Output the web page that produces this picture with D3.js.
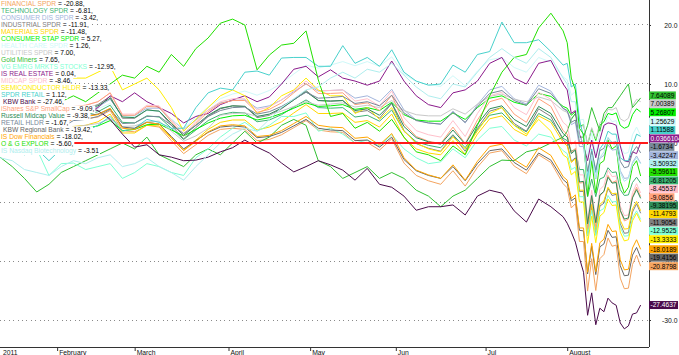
<!DOCTYPE html>
<html><head><meta charset="utf-8">
<script src="https://cdn.jsdelivr.net/npm/d3@7"></script>
<style>body{margin:0;background:#fff;}svg{display:block;font-family:"Liberation Sans",Arial,sans-serif;}</style>
</head><body><svg id="c" width="679" height="355"></svg>
<script>
// trading-day index since 11 Jan 2011 (every 3rd day until end of July, daily in August)
const days = [0,3,6,9,12,15,18,21,24,27,30,33,36,39,42,45,48,51,54,57,60,63,66,69,72,75,78,81,84,87,90,93,96,99,102,105,108,111,114,117,120,123,126,129,132,135,138,
  139,140,141,142,143,144,145,146,147,148,149,150,151,152,153,154,155,156,157];
const monthTickDays = [14,33,56,76,97,119,139];
const monthTickLabels = ["February","March","April","May","Jun","Jul","August"];
const yearLabel = "2011";
const yTicks = [20,10,0,-10,-20,-30];

const seriesNames = ["FINANCIAL SPDR","TECHNOLOGY SPDR","CONSUMER DIS SPDR","INDUSTRIAL SPDR","MATERIALS SPDR","CONSUMER STAP SPDR","HEALTH CARE SPDR","UTILITIES SPDR","Gold Miners","VG EMRG MRKTS STOCKS","IS REAL ESTATE","MIDCAP SPDR","SEMICONDUCTOR HLDR","SPDR RETAIL","KBW Bank","iShares S&P SmallCap","Russell Midcap Value","RETAIL HLDR","KBW Regional Bank","IS Dow Financials","O & G EXPLOR","IS Nasdaq Biotechnology"];
const legendValues = ["-20.88","-6.81","-3.42","-11.91","-11.48","5.27","1.26","7.00","7.65","-12.95","0.04","-8.46","-13.33","1.12","-27.46","-9.09","-9.38","-1.67","-19.42","-18.02","-5.60","-3.51"];
const seriesColors = ["#f4a460","#3cb371","#a3b5dc","#808080","#ffd700","#00f000","#cff9f9","#c8c8c8","#32c032","#7fffd4","#8b1a8b","#ffc0cb","#ffee00","#48d1cc","#4a0a4a","#ffa07a","#2e8b57","#778899","#666666","#ffa500","#22e000","#afeeee"];

const financial = [1.4,2.9,1.6,2.3,0.8,3.0,4.1,4.1,4.4,5.5,2.1,1.9,3.0,2.7,0.4,-1.8,-0.3,1.3,2.3,2.5,2.3,0.4,0.6,1.4,2.6,3.8,2.2,1.9,1.8,0.0,0.1,-1.2,0.7,-3.4,-5.5,-6.4,-7.0,-4.7,-7.3,-4.1,-1.7,-1.3,-3.9,-5.2,-2.0,-3.3,-6.9,
  -7.6,-11.0,-10.3,-16.7,-16.7,-25.1,-19.6,-25.0,-19.6,-18.9,-16.1,-17.5,-17.3,-22.9,-24.7,-24.6,-20.6,-19.0,-20.8798];
const technology = [1.3,2.8,1.7,2.6,1.3,3.5,4.6,4.8,5.3,6.4,3.5,3.4,4.6,4.4,2.5,0.6,2.2,3.8,4.8,5.2,5.1,3.6,3.9,4.8,6.1,7.3,6.0,5.9,6.0,4.4,4.7,3.7,5.6,2.0,0.2,-0.4,-0.8,1.4,-0.8,2.3,4.7,5.1,3.0,1.9,5.0,3.9,0.8,
  0.4,-1.4,-1.1,-4.5,-4.5,-9.1,-6.1,-9.1,-6.1,-5.8,-4.2,-5.0,-4.9,-7.9,-8.9,-8.8,-6.7,-5.8,-6.81205];
const consumerDis = [1.3,2.9,1.9,2.9,1.8,4.0,5.3,5.6,6.1,7.4,4.6,4.6,5.9,5.9,4.0,2.3,3.9,5.6,6.8,7.2,7.3,5.9,6.3,7.3,8.7,10.0,8.8,8.9,9.0,7.6,8.0,7.0,9.1,5.6,3.9,3.4,3.2,5.4,3.4,6.5,9.0,9.6,7.5,6.6,9.8,8.8,5.8,
  5.4,3.1,3.5,-0.6,-0.6,-6.2,-2.6,-6.1,-2.6,-2.1,-0.3,-1.2,-1.1,-4.7,-6.0,-5.9,-3.3,-2.2,-3.42247];
const industrial = [1.6,3.4,2.1,3.2,1.6,4.3,5.7,5.9,6.5,7.9,4.2,4.2,5.6,5.4,3.0,0.7,2.6,4.5,5.8,6.3,6.2,4.3,4.7,5.8,7.3,8.9,7.2,7.1,7.2,5.2,5.5,4.2,6.7,2.1,-0.1,-0.9,-1.4,1.3,-1.4,2.5,5.4,6.0,3.3,2.0,5.8,4.5,0.5,
  -0.1,-3.1,-2.5,-8.2,-8.2,-15.7,-10.7,-15.5,-10.7,-10.2,-7.7,-8.9,-8.7,-13.7,-15.3,-15.2,-11.7,-10.3,-11.9054];
const materials = [-1.1,0.6,-0.5,0.4,-0.9,1.5,2.8,3.0,3.6,4.9,1.7,1.7,3.0,2.9,0.8,-1.2,0.5,2.3,3.5,3.9,3.9,2.2,2.7,3.6,5.1,6.5,5.0,5.0,5.1,3.5,3.8,2.7,4.9,0.9,-1.0,-1.7,-2.0,0.4,-1.9,1.5,4.1,4.6,2.3,1.2,4.6,3.5,0.1,
  -0.5,-3.3,-2.7,-8.0,-8.0,-14.9,-10.4,-14.8,-10.4,-9.8,-7.5,-8.6,-8.5,-13.1,-14.6,-14.5,-11.2,-9.9,-11.4793];
const consumerStap = [-0.7,0.3,-0.2,0.5,-0.1,1.4,2.2,2.5,2.9,3.8,2.1,2.3,3.1,3.2,2.2,1.2,2.3,3.4,4.2,4.6,4.7,3.9,4.3,5.0,5.9,6.8,6.2,6.3,6.5,5.7,6.0,5.5,6.9,4.8,3.9,3.7,3.7,5.1,4.0,6.0,7.6,8.0,6.9,6.4,8.4,7.9,6.2,
  5.9,4.7,5.3,2.8,3.1,-0.3,2.4,0.4,3.0,3.6,5.0,4.8,5.1,3.0,2.5,2.8,4.8,5.8,5.26807];
const healthCare = [2.0,3.3,2.5,3.3,2.3,4.1,5.1,5.3,5.8,6.7,4.5,4.5,5.5,5.4,4.0,2.5,4.3,6.1,7.5,8.3,8.8,8.1,8.9,10.1,11.7,13.2,12.7,13.2,13.8,13.1,13.8,13.0,14.6,11.7,10.4,9.9,9.6,11.4,9.7,12.2,14.1,14.5,12.8,12.0,14.5,13.7,11.2,
  10.7,8.1,8.7,3.9,4.0,-2.4,1.8,-2.2,1.9,2.5,4.6,3.6,3.8,-0.4,-1.8,-1.6,1.4,2.7,1.25629];
const utilities = [0.2,1.0,0.7,1.2,0.8,2.0,2.7,3.0,3.3,4.1,2.8,2.9,3.6,3.7,2.0,0.3,1.2,2.5,4.7,5.0,5.1,4.5,4.8,5.4,6.2,7.0,6.4,6.6,6.8,6.1,6.4,6.0,7.2,5.5,4.8,4.6,4.6,5.8,4.9,6.6,7.9,8.3,7.4,7.0,7.8,7.2,5.5,
  5.2,4.2,4.9,2.6,3.0,-0.2,2.6,0.7,3.4,4.1,5.7,5.6,6.0,4.1,3.7,4.2,6.3,7.4,7.00389];
const goldMiners = [-2.4,-4,-6,-8.3,-7,-5,-4,-3,-2,-1,0,-1,1,-2,-3,-4,-2,-1,-2,0,2,0,1,3,4,3,-3,-4,-6,-5,-4,-6,-5,-6,-8,-9,-10.8,-9,-8,-6,-4,-2.9,-3,-1.5,-1,0,1,
  2,4,5,1,1,3,6,4,2,5,6,6,7,8,9,10,6,6.8,7.64089];
const vgEmrg = [0.7,0.5,-1.5,-1,-5.5,-3.5,-3.4,-4.5,-4,-3.5,-6,-5,-3.5,-4,-5,-5.5,-2.5,-1,1,2.5,3.5,2,3,4.5,4.5,5.1,2,2.5,1.5,0,0.5,-0.5,1.4,-1,-2.5,-3.5,-3.2,-1,-2.5,0.5,2.5,2.8,0.5,-0.5,1.5,1.0,-1.3,
  -1.8,-4.5,-4.1,-9.1,-9.1,-15.7,-11.4,-15.7,-11.5,-11.1,-8.9,-10.0,-9.9,-14.3,-15.8,-15.7,-12.7,-11.5,-12.9525];
const realEstate = [2,3,0.5,2.5,1.5,4,5.5,5,6,8,7,8.5,7,6,5,3.4,4.5,5,6.5,7.3,8,7,7.8,10,12.5,13,11.2,12.4,11,10.5,9.8,10.5,13.9,10.5,8,6.5,6,8.5,9,10.5,13.5,14.5,11,10,13.5,14,10,
  9,5,5.5,1.5,-0.5,-3,0.5,-2.5,0.5,3,3.4,3.3,3,-0.5,-3,-3.2,-1.5,-1.8,0.0366104];
const midcap = [1.6,3.5,2.3,3.4,1.9,4.6,6.1,6.4,7.0,8.5,4.9,4.9,6.4,6.3,3.9,1.6,3.6,5.6,7.0,7.5,7.5,5.6,6.1,7.3,8.9,10.5,8.9,8.9,9.0,7.1,7.5,6.3,8.8,4.3,2.1,1.4,1.0,3.8,1.1,5.0,8.0,8.6,6.0,4.8,8.6,7.4,3.5,
  2.9,-0.3,0.4,-5.4,-5.4,-13.2,-8.0,-13.0,-7.9,-7.2,-4.6,-5.7,-5.6,-10.7,-12.3,-12.2,-8.4,-6.9,-8.45537];
const semis = [3,5,4,8,6,9,11,11,12,13,9,10,11,9,6,2,4,6,8,9,8,5,6,8,9,11,9,8,8,5,6,4,6,2,0,-1,-1.5,1,-1,2,5,6,3,1.5,4,2,-2,
  -2.5,-5.4,-4.8,-10.0,-10.0,-17.0,-12.4,-16.9,-12.4,-11.8,-9.5,-10.6,-10.5,-15.1,-16.6,-16.4,-13.2,-11.9,-13.3333];
const spdrRetail = [0.5,-0.5,-2,-1,-3,-1,1,2,3,4.5,2,2.5,4,3.5,2.5,2.5,6,8.5,9.3,9,12,12.2,11.5,14.4,14.5,14.5,13,13,16.5,13.5,14.5,13,15.8,12,10.5,9.8,10,13.2,12,15,15.5,20.5,17,17,17.5,15.5,13.2,
  13.5,9.5,10,4,1,-6,-1,-5,-1,0,2,1.5,1.5,-2.5,-3,-3,-0.5,1.5,1.11588];
const kbwBank = [2.5,4,2.5,4,2.5,4.5,5.5,6,5.5,4,1.5,-0.7,-0.3,-2,-2.4,-3,-2.9,-2.4,-1.5,-0.8,0.5,-0.7,-1.7,-3.4,-4.9,-4.0,-3.0,-3.7,-4.6,-6.3,-4.3,-7.0,-7.5,-9.0,-11.4,-10.8,-10.8,-10.5,-12.2,-9.0,-8.0,-8.5,-11.5,-13.4,-9.5,-10.8,-12.5,
  -13.6,-15.1,-16.8,-19.5,-21.9,-29.2,-25.4,-30.8,-28.0,-28.6,-26.3,-27.1,-27.5,-30.5,-31.5,-31.0,-29.0,-28.8,-27.4637];
const smallCap = [1.7,2.0,0.5,1.5,0.0,3.0,6.2,6.4,7.0,8.5,4.7,4.7,6.2,6.1,3.6,1.2,3.3,5.3,6.7,7.2,7.2,5.2,5.7,6.8,8.5,10.1,8.4,8.4,8.5,6.5,6.8,5.5,8.1,3.3,1.1,0.3,-0.1,2.7,-0.1,3.9,7.0,7.6,4.9,3.5,7.5,6.2,2.1,
  1.5,-1.6,-0.9,-6.8,-6.7,-14.5,-9.2,-14.2,-9.0,-8.2,-5.5,-6.7,-6.4,-11.5,-13.2,-12.9,-9.1,-7.5,-9.0856];
const midcapValue = [1.9,3.5,2.4,3.3,2.0,4.4,5.6,5.8,6.3,7.6,4.4,4.3,5.6,5.4,3.3,1.3,3.0,4.7,5.9,6.3,6.2,4.5,4.9,5.9,7.3,8.7,7.2,7.1,7.2,5.5,5.8,4.7,6.8,2.8,0.9,0.2,-0.2,2.2,-0.2,3.2,5.8,6.3,4.0,2.8,6.2,5.0,1.6,
  1.0,-1.8,-1.2,-6.6,-6.5,-13.7,-8.9,-13.5,-8.8,-8.2,-5.8,-6.8,-6.7,-11.4,-12.9,-12.7,-9.3,-7.9,-9.38195];
const retailHldr = [0.1,1.5,0.7,1.6,0.7,2.6,3.8,4.0,4.5,5.7,3.3,3.4,4.5,4.5,3.0,1.6,3.0,4.5,5.5,6.0,6.1,4.9,5.3,6.2,7.4,8.6,7.6,7.7,7.9,6.7,7.0,6.3,8.1,5.1,3.8,3.4,3.2,5.2,3.5,6.2,8.4,8.9,7.2,6.4,9.2,8.4,5.9,
  5.5,3.5,3.9,0.2,0.2,-4.8,-1.4,-4.6,-1.3,-0.9,0.8,0.1,0.2,-3.1,-4.2,-4.0,-1.6,-0.6,-1.6734];
const kbwRegional = [2.3,3.6,2.4,3.1,1.6,3.6,4.6,4.6,4.9,5.8,2.7,2.5,3.5,3.2,1.1,-1.0,0.4,1.8,2.7,2.9,2.7,0.9,1.1,1.8,2.9,4.0,2.5,2.2,2.1,0.4,0.5,-0.7,1.0,-2.8,-4.7,-5.5,-6.0,-4.0,-6.4,-3.5,-1.3,-1.0,-3.3,-4.6,-1.7,-2.9,-6.2,
  -6.8,-9.8,-9.3,-14.8,-14.9,-22.2,-17.5,-22.3,-17.6,-17.1,-14.8,-16.0,-15.9,-20.8,-22.5,-22.4,-19.0,-17.7,-19.4156];
const dowFinancials = [1.6,3.1,1.8,2.6,1.1,3.3,4.4,4.5,4.8,5.9,2.5,2.3,3.5,3.2,0.9,-1.3,0.3,1.9,2.9,3.1,2.9,1.1,1.3,2.1,3.3,4.5,3.0,2.7,2.6,0.8,1.0,-0.3,1.6,-2.5,-4.6,-5.4,-6.0,-3.7,-6.3,-3.1,-0.6,-0.2,-2.8,-4.1,-0.8,-2.1,-5.7,
  -6.3,-9.4,-8.8,-14.4,-14.4,-21.9,-17.0,-21.8,-16.9,-16.3,-13.8,-15.0,-14.9,-19.8,-21.5,-21.4,-17.8,-16.4,-18.0189];
const ogExplor = [3,4,3,5,4,7,8,7,8.5,10,11.5,11,13,12,15,13,16,17.8,20.3,21,20,12.4,14.9,16.6,16.9,19,10.7,4.5,5,2.5,3.5,2,4,1,-1.5,-2,-3,-0.5,-2,3,8,12,14.5,15,19.5,22,19,
  17,11,9,2.5,1.5,-9,-3,-8.5,-3.5,-3,0.5,-1,-0.5,-6.5,-8.5,-7.5,-4,-3,-5.59611];
const nasdaqBio = [-2.5,-3,-4.5,-5,-5.5,-4,-3,-3.5,-2.5,-2,-4,-3.5,-2.5,-4,-5,-6.3,-4,-2,0,1.5,2.5,2,4,6,7.5,9,9.5,11,12,11,12.5,12,13.5,11.5,9.5,8,7.5,10,9.5,12,14.5,16,14.5,13.5,16,14.5,11,
  10,7,7,1,0,-7,-2,-6,-2.5,-1.5,1,0,-0.5,-5,-6.5,-6,-3.5,-2.5,-3.50932];

const seriesValues = [financial,technology,consumerDis,industrial,materials,consumerStap,healthCare,utilities,goldMiners,vgEmrg,realEstate,midcap,semis,spdrRetail,kbwBank,smallCap,midcapValue,retailHldr,kbwRegional,dowFinancials,ogExplor,nasdaqBio];

const svg = d3.select("#c");
const x = d3.scaleLinear().domain([0, 158.8]).range([0, 648]);
const y = d3.scaleLinear().domain([-34.576, 24.237]).range([347, 0]);

// dotted grid
svg.append("g").selectAll("line").data(yTicks.filter(d => d !== 0)).join("line")
  .attr("x1", 0).attr("x2", 648).attr("y1", d => y(d)).attr("y2", d => y(d))
  .attr("stroke", "#8a8a8a").attr("stroke-width", 1).attr("stroke-dasharray", "1,3.4")
  .attr("shape-rendering", "crispEdges");

// series lines
const line = d3.line().x((d, i) => x(days[i])).y(d => y(d));
svg.append("g").selectAll("path").data(seriesValues).join("path")
  .attr("d", line).attr("fill", "none")
  .attr("stroke", (d, i) => seriesColors[i]).attr("stroke-width", 1);

// zero line
svg.append("line").attr("x1", 0).attr("x2", 648).attr("y1", y(0)).attr("y2", y(0))
  .attr("stroke", "#ff1a1a").attr("stroke-width", 2);

// bottom axis
const xAxis = d3.axisBottom(x).tickValues(monthTickDays)
  .tickFormat((d, i) => monthTickLabels[i]).tickSizeInner(4).tickSizeOuter(0);
const gx = svg.append("g").attr("transform", "translate(0,347)").call(xAxis);
gx.select(".domain").attr("d", "M0,0.5H649").attr("stroke", "#333");
gx.selectAll(".tick line").attr("stroke", "#333");
gx.selectAll(".tick text").attr("x", 1.5).attr("y", 7.5).attr("dy", 0)
  .style("text-anchor", "start").attr("font-size", 6.8).attr("fill", "#111");
svg.append("text").attr("x", 3).attr("y", 354.5).attr("font-size", 6.8).attr("fill", "#111").text(yearLabel);

// right axis
const yAxis = d3.axisRight(y).tickValues(yTicks).tickFormat(d => d.toFixed(1)).tickSizeInner(2).tickSizeOuter(0);
const gy = svg.append("g").attr("transform", "translate(649,0)").call(yAxis);
gy.select(".domain").attr("d", "M0.5,0V347").attr("stroke", "#333");
gy.selectAll(".tick line").attr("stroke", "#333");
gy.selectAll(".tick text").attr("x", 28.5).style("text-anchor", "end").attr("font-size", 6.8).attr("fill", "#111");

// legend with white row backgrounds
const lg = svg.append("g").attr("font-size", 6.7);
seriesNames.forEach((name, i) => {
  const yb = 6.4 + 7 * i;
  const row = lg.append("g");
  const bg = row.append("rect").attr("fill", "#fff");
  const isKbw = name.startsWith("KBW");
  const t = row.append("text").attr("x", isKbw ? 3 : 1).attr("y", yb);
  t.append("tspan").attr("fill", seriesColors[i]).text(name);
  t.append("tspan").attr("fill", "#000").text(" = " + legendValues[i] + (i < seriesNames.length - 1 ? "," : ""));
  const w = t.node().getComputedTextLength();
  bg.attr("x", 0).attr("y", yb - 6).attr("width", w + (isKbw ? 4 : 2)).attr("height", 7.6);
});

// end-value labels on the right, spread apart to avoid overlap
const gap = 8.4;
const items = seriesValues.map((v, i) => ({i, v: v[v.length - 1], t: y(v[v.length - 1])}))
  .sort((a, b) => a.t - b.t);
let clusters = items.map(it => ({m: [it]}));
const place = c => { const mean = d3.mean(c.m, d => d.t); c.top = mean - (c.m.length - 1) * gap / 2; c.bot = c.top + (c.m.length - 1) * gap; };
clusters.forEach(place);
let merged = true;
while (merged) {
  merged = false;
  for (let k = 0; k < clusters.length - 1; k++) {
    if (clusters[k].bot + gap > clusters[k + 1].top + 0.01) {
      clusters[k].m = clusters[k].m.concat(clusters[k + 1].m);
      clusters.splice(k + 1, 1); place(clusters[k]); merged = true; break;
    }
  }
}
const fmt = v => { let s = v.toPrecision(6); if (s.indexOf(".") >= 0) s = s.replace(/0+$/, "").replace(/\.$/, ""); return s; };
const lab = svg.append("g").attr("font-size", 6.6);
clusters.forEach(c => c.m.forEach((it, j) => {
  const cy = c.top + j * gap;
  const g = lab.append("g");
  const r = g.append("rect").attr("fill", seriesColors[it.i]);
  const dark = (it.i === 10 || it.i === 14);
  const t = g.append("text").attr("x", 650.5).attr("y", cy + 2.4).attr("fill", dark ? "#fff" : "#000").text(fmt(it.v));
  const w = t.node().getComputedTextLength();
  r.attr("x", 649).attr("y", cy - 4).attr("width", w + 3).attr("height", 8);
}));
</script></body></html>
